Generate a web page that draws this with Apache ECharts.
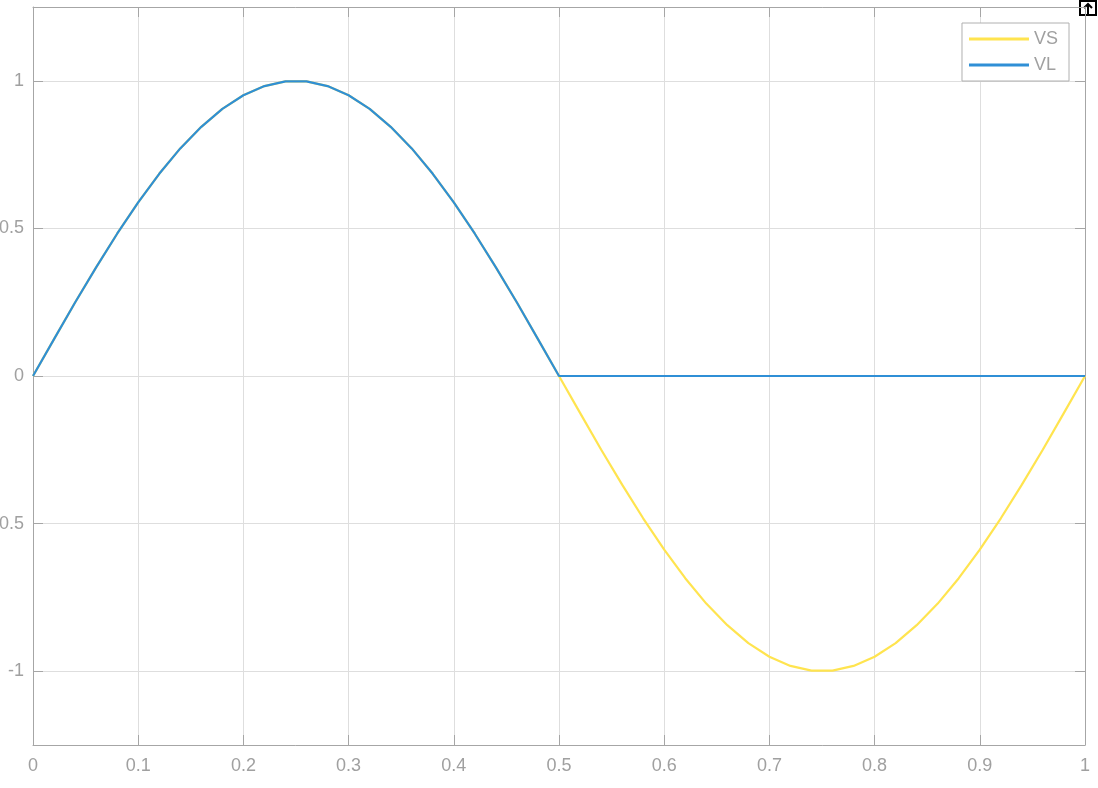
<!DOCTYPE html>
<html>
<head>
<meta charset="utf-8">
<script src="https://cdn.jsdelivr.net/npm/echarts@6/dist/echarts.min.js"></script>
<style>html,body{margin:0;padding:0;background:#fff}#c{width:1098px;height:788px}</style>
</head>
<body>
<div id="c"></div>
<script>
var times = [0,0.02,0.04,0.06,0.08,0.10,0.12,0.14,0.16,0.18,0.20,0.22,0.24,0.26,0.28,0.30,0.32,0.34,0.36,0.38,0.40,0.42,0.44,0.46,0.48,0.50,
  0.52,0.54,0.56,0.58,0.60,0.62,0.64,0.66,0.68,0.70,0.72,0.74,0.76,0.78,0.80,0.82,0.84,0.86,0.88,0.90,0.92,0.94,0.96,0.98,1.00];
var vsValues = [0,0.125,0.249,0.368,0.482,0.588,0.685,0.771,0.844,0.905,0.951,0.982,0.998,0.998,0.982,0.951,0.905,0.844,0.771,0.685,0.588,0.482,0.368,0.249,0.125,0,
  -0.125,-0.249,-0.368,-0.482,-0.588,-0.685,-0.771,-0.844,-0.905,-0.951,-0.982,-0.998,-0.998,-0.982,-0.951,-0.905,-0.844,-0.771,-0.685,-0.588,-0.482,-0.368,-0.249,-0.125,0];
var vlValues = [0,0.125,0.249,0.368,0.482,0.588,0.685,0.771,0.844,0.905,0.951,0.982,0.998,0.998,0.982,0.951,0.905,0.844,0.771,0.685,0.588,0.482,0.368,0.249,0.125,0,
  0,0,0,0,0,0,0,0,0,0,0,0,0,0,0,0,0,0,0,0,0,0,0,0,0];
var yTicks = [-1,-0.5,0,0.5,1];
var seriesNames = ['VS','VL'];

function zip(xs, ys){ return xs.map(function(x,i){ return [x, ys[i]]; }); }

var axisColor = '#a6a6a6';
var labelColor = '#a0a0a0';
var gridColor = '#dedede';
var font = 'Liberation Sans, Arial, Helvetica, sans-serif';

var chart = echarts.init(document.getElementById('c'));
chart.setOption({
  animation: false,
  backgroundColor: '#fff',
  grid: {left: 33, right: 13, top: 7, bottom: 43, containLabel: false, outerBoundsMode: 'none'},
  legend: {
    data: seriesNames,
    orient: 'vertical',
    right: 29, top: 23,
    backgroundColor: '#fff',
    borderColor: '#b0b0b0', borderWidth: 1, borderRadius: 0,
    padding: [7, 11, 7, 7],
    itemWidth: 60, itemHeight: 3, itemGap: 8,
    icon: 'rect',
    textStyle: {color: labelColor, fontSize: 18, fontFamily: font, lineHeight: 18}
  },
  xAxis: [{
    type: 'value', min: 0, max: 1, interval: 0.1,
    axisLine: {show: true, onZero: false, lineStyle: {color: axisColor, width: 1}},
    axisTick: {show: true, inside: true, length: 10, lineStyle: {color: axisColor}},
    axisLabel: {color: labelColor, fontSize: 18, fontFamily: font, margin: 12,
      formatter: function(v){ return String(Math.round(v*10)/10); }},
    splitLine: {show: true, lineStyle: {color: gridColor, width: 1}}
  },{
    type: 'value', min: 0, max: 1, interval: 0.1, position: 'top',
    axisLine: {show: true, onZero: false, lineStyle: {color: axisColor, width: 1}},
    axisTick: {show: true, inside: true, length: 10, lineStyle: {color: axisColor}},
    axisLabel: {show: false}, splitLine: {show: false}
  }],
  yAxis: [{
    type: 'value', min: -1.25, max: 1.25,
    axisLine: {show: true, onZero: false, lineStyle: {color: axisColor, width: 1}},
    axisTick: {show: true, inside: true, length: 10, lineStyle: {color: axisColor}, customValues: yTicks},
    axisLabel: {color: labelColor, fontSize: 18, fontFamily: font, margin: 9, customValues: yTicks,
      formatter: function(v){ return String(v); }},
    splitLine: {show: true, lineStyle: {color: gridColor, width: 1}}
  },{
    type: 'value', min: -1.25, max: 1.25, position: 'right',
    axisLine: {show: true, onZero: false, lineStyle: {color: axisColor, width: 1}},
    axisTick: {show: true, inside: true, length: 10, lineStyle: {color: axisColor}, customValues: yTicks},
    axisLabel: {show: false}, splitLine: {show: false}
  }],
  series: [{
    name: 'VS', type: 'line', data: zip(times, vsValues),
    showSymbol: false, symbol: 'none',
    lineStyle: {color: '#ffe44f', width: 2.2}, itemStyle: {color: '#ffe44f'},
    z: 2
  },{
    name: 'VL', type: 'line', data: zip(times, vlValues),
    showSymbol: false, symbol: 'none',
    lineStyle: {color: '#2f8fd6', width: 2.2}, itemStyle: {color: '#2f8fd6'},
    z: 3
  }],
  graphic: [{
    type: 'group', right: 1, top: 0,
    children: [
      {type: 'rect', shape: {x: 0, y: 0, width: 16, height: 14}, style: {fill: '#fff', stroke: '#000', lineWidth: 2}},
      {type: 'polyline', shape: {points: [[4,7],[8,3],[12,7]]}, style: {fill: 'none', stroke: '#000', lineWidth: 2}},
      {type: 'line', shape: {x1: 8, y1: 3, x2: 8, y2: 14}, style: {stroke: '#000', lineWidth: 2}}
    ]
  }]
});
</script>
</body>
</html>
